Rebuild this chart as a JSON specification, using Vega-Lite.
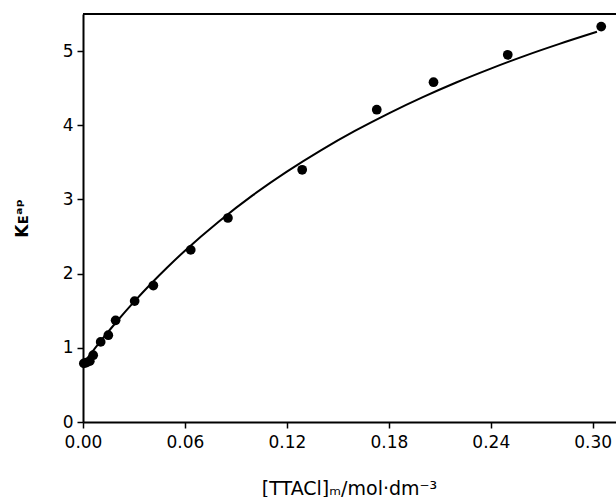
{
  "$schema": "https://vega.github.io/schema/vega-lite/v6.json",
  "autosize": "none",
  "width": 533,
  "height": 408,
  "padding": {"left": 83, "top": 14, "right": 0, "bottom": 75},
  "background": "white",
  "config": {
    "view": {"stroke": null},
    "axis": {
      "labelFont": "DejaVu Sans",
      "titleFont": "DejaVu Sans",
      "labelFontSize": 17,
      "titleFontSize": 19,
      "labelColor": "black",
      "titleColor": "black",
      "titleFontWeight": "normal",
      "labelFlush": false,
      "domainColor": "black",
      "domainWidth": 2,
      "tickColor": "black",
      "tickWidth": 1.5,
      "tickSize": 6,
      "grid": false
    }
  },
  "datasets": {
    "points": [
      {"c": 0.0005, "k": 0.79},
      {"c": 0.002, "k": 0.80},
      {"c": 0.004, "k": 0.82},
      {"c": 0.006, "k": 0.90},
      {"c": 0.0104, "k": 1.08},
      {"c": 0.0149, "k": 1.17},
      {"c": 0.0192, "k": 1.37},
      {"c": 0.0304, "k": 1.63},
      {"c": 0.0414, "k": 1.84},
      {"c": 0.0634, "k": 2.32},
      {"c": 0.0853, "k": 2.75},
      {"c": 0.129, "k": 3.40},
      {"c": 0.1729, "k": 4.21},
      {"c": 0.2063, "k": 4.58},
      {"c": 0.25, "k": 4.95},
      {"c": 0.305, "k": 5.33}
    ],
    "fit": [
      {"c": 0.0, "k": 0.78},
      {"c": 0.005, "k": 0.932},
      {"c": 0.01, "k": 1.079},
      {"c": 0.02, "k": 1.358},
      {"c": 0.03, "k": 1.619},
      {"c": 0.04, "k": 1.864},
      {"c": 0.05, "k": 2.093},
      {"c": 0.06, "k": 2.309},
      {"c": 0.08, "k": 2.704},
      {"c": 0.10, "k": 3.058},
      {"c": 0.12, "k": 3.375},
      {"c": 0.14, "k": 3.662},
      {"c": 0.16, "k": 3.923},
      {"c": 0.18, "k": 4.161},
      {"c": 0.20, "k": 4.379},
      {"c": 0.22, "k": 4.580},
      {"c": 0.24, "k": 4.764},
      {"c": 0.26, "k": 4.936},
      {"c": 0.28, "k": 5.094},
      {"c": 0.3025, "k": 5.260}
    ],
    "frame": [{"top": 5.5}]
  },
  "layer": [
    {
      "data": {"name": "frame"},
      "mark": {"type": "rule", "color": "black", "strokeWidth": 2},
      "encoding": {
        "y": {"field": "top", "type": "quantitative", "scale": {"domain": [0, 5.5]}}
      }
    },
    {
      "data": {"name": "fit"},
      "mark": {"type": "line", "color": "black", "strokeWidth": 2, "interpolate": "monotone"},
      "encoding": {
        "x": {"field": "c", "type": "quantitative", "scale": {"domain": [0, 0.3137], "nice": false}},
        "y": {"field": "k", "type": "quantitative", "scale": {"domain": [0, 5.5], "nice": false}}
      }
    },
    {
      "data": {"name": "points"},
      "mark": {"type": "circle", "color": "black", "opacity": 1, "size": 95},
      "encoding": {
        "x": {
          "field": "c", "type": "quantitative",
          "scale": {"domain": [0, 0.3137], "nice": false},
          "axis": {
            "values": [0, 0.06, 0.12, 0.18, 0.24, 0.30],
            "format": ".2f",
            "labelPadding": 6,
            "title": "[TTACl]ₘ/mol·dm⁻³",
            "titleX": 266,
            "titleY": 72,
            "titleAlign": "center",
            "titleBaseline": "alphabetic"
          }
        },
        "y": {
          "field": "k", "type": "quantitative",
          "scale": {"domain": [0, 5.5], "nice": false},
          "axis": {
            "values": [0, 1, 2, 3, 4, 5],
            "format": "d",
            "labelPadding": 4,
            "title": "Kᴇᵃᵖ",
            "titleX": -56,
            "titleY": 204,
            "titleAngle": -90,
            "titleAlign": "center",
            "titleBaseline": "alphabetic",
            "titleFontSize": 17,
            "titleFontWeight": "bold"
          }
        }
      }
    }
  ]
}
